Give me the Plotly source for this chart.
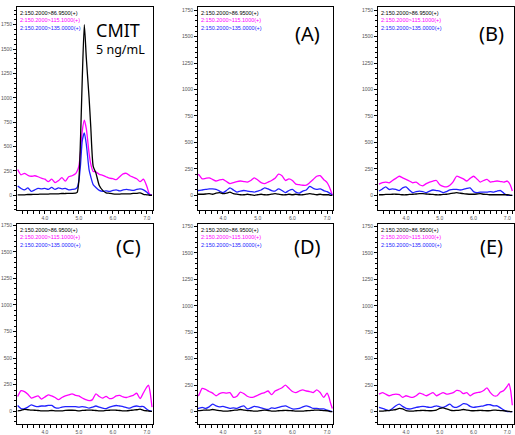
import plotly.graph_objects as go

# ---------------- data ----------------
TIME_CMIT = [3.2, 3.3, 3.4, 3.5, 3.6, 3.7, 3.8, 3.9, 4.0, 4.1, 4.2, 4.3, 4.4, 4.5, 4.6, 4.7, 4.8, 4.9,
             4.95, 5.0, 5.05, 5.1, 5.16, 5.22, 5.3, 5.35, 5.42, 5.5, 5.6, 5.7, 5.8, 5.9, 6.0, 6.1, 6.2,
             6.3, 6.4, 6.5, 6.6, 6.7, 6.8, 6.9, 7.0, 7.08, 7.15]
CMIT_86 = [5, 5, 5, 8, 8, 10, 10, 12, 12, 12, 15, 15, 15, 18, 18, 20, 20, 22,
           30, 150, 600, 1200, 1750, 1400, 1000, 700, 300, 230, 100, 50, 25, 20, 15, 12, 12,
           15, 15, 15, 20, 20, 25, 10, 5, 0, 0]
CMIT_115 = [265, 210, 225, 205, 195, 200, 190, 175, 165, 140, 165, 130, 150, 180, 145, 190, 200, 220,
            250, 300, 450, 660, 770, 680, 430, 320, 245, 240, 215, 205, 190, 175, 170, 160, 190,
            220, 225, 200, 185, 170, 140, 165, 90, 10, 0]
CMIT_135 = [95, 70, 55, 75, 40, 55, 70, 65, 70, 60, 80, 60, 75, 65, 70, 55, 60, 65,
            80, 150, 320, 560, 640, 520, 260, 190, 110, 80, 50, 40, 45, 40, 50, 55, 45,
            55, 60, 55, 50, 60, 65, 55, 30, 5, 0]

TIME = [3.2, 3.3, 3.4, 3.5, 3.6, 3.7, 3.8, 3.9, 4.0, 4.1, 4.2, 4.3, 4.4, 4.5, 4.6, 4.7, 4.8, 4.9,
        5.0, 5.1, 5.2, 5.3, 5.4, 5.5, 5.6, 5.7, 5.8, 5.9, 6.0, 6.1, 6.2, 6.3, 6.4, 6.5, 6.6, 6.7,
        6.8, 6.9, 7.0, 7.05, 7.1, 7.15]

A_86 = [10, 10, 10, 12, 15, 10, 20, 25, 15, 20, 30, 15, 10, 5, 5, 10, 5, 0,
        5, 10, 5, 5, 10, 15, 10, 5, 5, 10, 5, 10, 5, 5, 10, 15, 10, 5,
        10, 5, 5, 5, 0, 0]
A_115 = [200, 195, 155, 160, 165, 150, 135, 145, 150, 130, 110, 120, 130, 135, 130, 125, 140, 165,
         145, 120, 110, 125, 140, 160, 200, 185, 140, 155, 140, 105, 100, 95, 95, 120, 150, 180,
         185, 150, 120, 90, 50, 0]
A_135 = [45, 45, 50, 55, 60, 60, 55, 40, 25, 45, 70, 50, 30, 40, 45, 40, 35, 30,
         40, 50, 70, 60, 45, 40, 60, 45, 25, 45, 55, 30, 20, 40, 50, 85, 65, 55,
         60, 45, 35, 25, 15, 0]

B_86 = [5, 5, 8, 8, 10, 10, 8, 5, 5, 8, 10, 12, 15, 15, 12, 10, 8, 5,
        5, 8, 10, 15, 20, 25, 20, 15, 12, 10, 10, 12, 15, 10, 8, 5, 5, 5,
        5, 5, 5, 3, 0, 0]
B_115 = [105, 120, 125, 118, 140, 160, 180, 165, 150, 135, 118, 125, 100, 90, 110, 125, 135, 140,
         100, 85, 80, 95, 130, 180, 170, 155, 135, 160, 180, 155, 125, 140, 150, 125, 130, 135,
         130, 125, 135, 120, 90, 40]
B_135 = [40, 60, 80, 55, 60, 55, 45, 70, 80, 50, 25, 35, 40, 35, 25, 40, 50, 45,
         40, 25, 35, 50, 55, 55, 50, 55, 65, 70, 35, 25, 30, 30, 30, 35, 30, 40,
         45, 20, 0, 0, 0, 0]

C_86 = [5, 10, 18, 15, 12, 10, 8, 5, 5, 5, 8, 5, 5, 5, 8, 10, 10, 8,
        5, 8, 10, 12, 10, 8, 5, 5, 8, 10, 12, 10, 8, 5, 5, 8, 12, 15,
        20, 10, 5, 3, 0, 0]
C_115 = [140, 195, 185, 160, 125, 135, 145, 115, 135, 155, 145, 130, 110, 130, 145, 155, 165, 150,
         145, 125, 110, 100, 110, 165, 140, 125, 140, 120, 125, 145, 150, 135, 130, 140, 150, 170,
         120, 175, 230, 245, 170, 40]
C_135 = [55, 25, 25, 40, 60, 50, 45, 50, 50, 55, 55, 35, 30, 40, 45, 45, 45, 45,
         40, 45, 40, 30, 40, 50, 40, 30, 25, 40, 50, 55, 50, 45, 35, 30, 45, 50,
         45, 45, 20, 10, 5, 0]

D_86 = [10, 10, 12, 15, 15, 20, 15, 10, 5, 5, 8, 12, 15, 20, 15, 10, 8, 5,
        5, 10, 15, 10, 5, 5, 8, 10, 12, 10, 8, 5, 5, 5, 8, 10, 12, 15,
        12, 10, 8, 5, 0, 0]
D_115 = [140, 155, 220, 210, 190, 175, 150, 170, 180, 175, 180, 135, 145, 185, 170, 145, 135, 140,
         155, 170, 180, 195, 160, 195, 210, 225, 250, 220, 190, 180, 195, 205, 195, 190, 180, 205,
         180, 135, 175, 140, 80, 30]
D_135 = [30, 30, 40, 30, 45, 70, 55, 45, 50, 40, 30, 35, 30, 45, 55, 25, 35, 50,
         45, 35, 25, 20, 35, 30, 40, 50, 55, 40, 25, 25, 30, 45, 55, 45, 30, 30,
         25, 25, 15, 10, 5, 0]

E_86 = [5, 5, 8, 10, 15, 20, 30, 25, 10, 5, 5, 8, 10, 12, 10, 8, 10, 15,
        30, 35, 25, 15, 10, 12, 15, 20, 15, 10, 8, 10, 12, 10, 8, 10, 15, 12,
        10, 8, 5, 3, 0, 0]
E_115 = [165, 180, 165, 150, 160, 165, 160, 135, 150, 140, 135, 150, 175, 165, 150, 165, 180, 150,
         165, 180, 165, 170, 180, 200, 195, 170, 180, 150, 170, 180, 185, 200, 225, 180, 150, 150,
         185, 200, 240, 265, 200, 60]
E_135 = [40, 30, 20, 10, 30, 55, 70, 50, 30, 25, 30, 40, 45, 50, 45, 40, 45, 55,
         45, 40, 55, 70, 45, 40, 55, 75, 70, 50, 40, 45, 50, 55, 65, 65, 55, 55,
         35, 15, 0, 0, 0, 0]

TRACE_NAMES = ["2:150.2000>86.9500(+)", "2:150.2000>115.1000(+)", "2:150.2000>135.0000(+)"]
PANEL_LABELS = ["", "(A)", "(B)", "(C)", "(D)", "(E)"]
X_TICKS = [4.0, 5.0, 6.0, 7.0]
Y_TICKS = [0, 250, 500, 750, 1000, 1250, 1500, 1750]

panels = [
    (TIME_CMIT, CMIT_86, CMIT_115, CMIT_135),
    (TIME, A_86, A_115, A_135),
    (TIME, B_86, B_115, B_135),
    (TIME, C_86, C_115, C_135),
    (TIME, D_86, D_115, D_135),
    (TIME, E_86, E_115, E_135),
]

# ---------------- layout geometry ----------------
W, H = 515, 435
col_px = [(17, 153), (198, 333), (378, 514)]
row_px = [(5, 211), (225, 428)]
x_ranges = [[3.18, 7.18], [3.28, 7.17], [3.17, 7.2]]
y_ranges = [[[-152, 1932], [-140, 1781], [-140, 1781]],
            [[-120, 1762], [-118, 1775], [-118, 1775]]]

COLORS = ["#000000", "#FF00FF", "#2222FF"]

fig = go.Figure()
layout = {}
annotations = []

for i, (t, s86, s115, s135) in enumerate(panels):
    r, c = divmod(i, 3)
    n = i + 1
    xa = "x" if n == 1 else f"x{n}"
    ya = "y" if n == 1 else f"y{n}"
    # draw order: magenta, blue, black on top
    for series, color in ((s115, COLORS[1]), (s135, COLORS[2]), (s86, COLORS[0])):
        fig.add_trace(go.Scatter(x=t, y=series, mode="lines", xaxis=xa, yaxis=ya,
                                 line=dict(color=color, width=1.3, shape="spline", smoothing=0.6),
                                 showlegend=False, hoverinfo="skip"))
    x0, x1 = col_px[c]
    y0, y1 = row_px[r]
    common = dict(showline=True, linecolor="black", linewidth=1, mirror=True,
                  showgrid=False, zeroline=False, ticks="outside", ticklen=3, tickwidth=1,
                  tickcolor="black", ticklabelstandoff=0,
                  tickfont=dict(size=5, color="#555555", family="Liberation Sans"))
    layout["xaxis" if n == 1 else f"xaxis{n}"] = dict(
        domain=[x0 / W, x1 / W], range=x_ranges[c], anchor=ya,
        tickvals=X_TICKS, ticktext=[f"{v:.1f}" for v in X_TICKS],
        minor=dict(dtick=1 / 6, tick0=4.0, ticks="outside", ticklen=3, tickcolor="black", tickwidth=1),
        **common)
    layout["yaxis" if n == 1 else f"yaxis{n}"] = dict(
        domain=[1 - y1 / H, 1 - y0 / H], range=y_ranges[r][c], anchor=xa,
        tickvals=Y_TICKS, ticktext=[str(v) for v in Y_TICKS],
        minor=dict(dtick=50, tick0=0, ticks="outside", ticklen=2, tickcolor="black", tickwidth=1),
        **common)
    # trace name labels
    for k, (name, color) in enumerate(zip(TRACE_NAMES, COLORS)):
        annotations.append(dict(text=name, x=(x0 + 1) / W, y=1 - (y0 + 1 + 7.5 * k) / H,
                                xref="paper", yref="paper", xanchor="left", yanchor="top",
                                showarrow=False, font=dict(size=5.5, color=color, family="Liberation Sans")))
    if PANEL_LABELS[i]:
        lx = [128, 307, 491][c]
        ly = [32, 248][r]
        annotations.append(dict(text=PANEL_LABELS[i], x=lx / W, y=1 - ly / H, xref="paper", yref="paper",
                                xanchor="center", yanchor="middle", showarrow=False,
                                font=dict(size=20, color="black", family="Noto Sans")))

annotations.append(dict(text="CMIT", x=118 / W, y=1 - 28 / H, xref="paper", yref="paper",
                        xanchor="center", yanchor="middle", showarrow=False,
                        font=dict(size=18, color="black", family="Noto Sans")))
annotations.append(dict(text="5 ng/mL", x=120 / W, y=1 - 48 / H, xref="paper", yref="paper",
                        xanchor="center", yanchor="middle", showarrow=False,
                        font=dict(size=12.5, color="black", family="Noto Sans")))

fig.update_layout(width=W, height=H, margin=dict(l=0, r=0, t=0, b=0),
                  paper_bgcolor="white", plot_bgcolor="white", annotations=annotations, **layout)

fig.write_html("out.html", config={"displayModeBar": False},
               post_script="document.body.style.margin='0px';document.body.style.overflow='hidden';")
